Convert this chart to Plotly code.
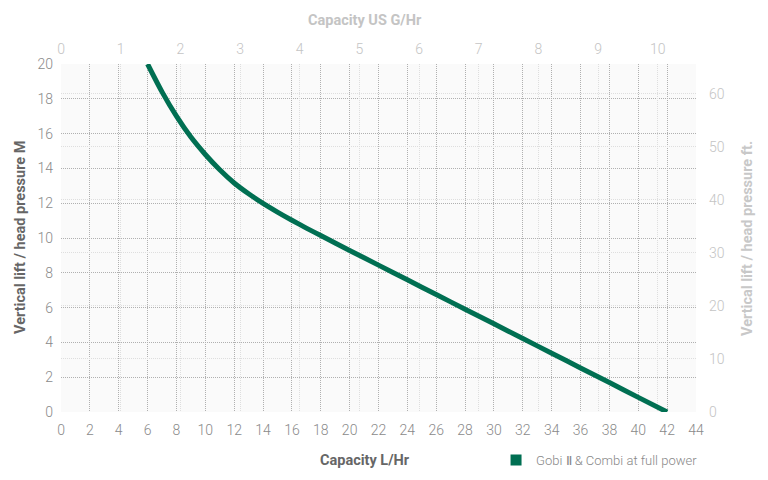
import plotly.graph_objects as go

# Pump curve: capacity (L/Hr) vs head (M)
capacity_lhr = [6, 7, 8, 9, 10, 11, 12, 13, 14, 15, 16, 17, 18, 20, 22, 24, 26, 28, 30, 32, 34, 36, 38, 40, 42]
head_m = [20, 18.4, 17.0, 15.8, 14.8, 13.92, 13.16, 12.54, 11.99, 11.49, 11.02, 10.57, 10.14,
          9.28, 8.44, 7.6, 6.75, 5.91, 5.07, 4.22, 3.38, 2.53, 1.69, 0.84, 0]
series_name = "Gobi Ⅱ & Combi at full power"

L_PER_GAL = 4.135  # spacing of top scale as drawn on the chart
M_PER_FT = 0.3048

green = "#006f52"
font = "Roboto"
major_grid = "#b0b0b0"
minor_grid = "#dedede"

# page body has an 8px margin, so the figure is drawn 8px right/down
L, R, T, B = 53, 80, 56, 76
PW, PH = 768 - L - R, 480 - T - B

fig = go.Figure()
fig.add_trace(go.Scatter(x=capacity_lhr, y=head_m, mode="lines",
                         line=dict(color=green, width=5, shape="spline", smoothing=0.8),
                         showlegend=False, hoverinfo="skip"))
# legend swatch
fig.add_trace(go.Scatter(x=[None], y=[None], mode="markers", name=series_name,
                         marker=dict(symbol="square", size=11, color=green)))
# empty trace to hold the secondary (gallon / feet) axes
fig.add_trace(go.Scatter(x=[None], y=[None], xaxis="x2", yaxis="y2", showlegend=False))

common = dict(zeroline=False, showline=False, ticks="", automargin=False, showgrid=True,
              gridwidth=1, griddash="1px,1px")
dark_ticks = dict(size=14, color="#8a8a8a", weight=300)
light_ticks = dict(size=14, color="#c4c4c4", weight=300)

fig.update_layout(
    width=768, height=480,
    margin=dict(l=L, r=R, t=T, b=B, autoexpand=False),
    paper_bgcolor="white", plot_bgcolor="#fafafa",
    font=dict(family=font, color="#888"),
    xaxis=dict(range=[0, 44], dtick=2, gridcolor=major_grid, ticklabelstandoff=8,
               tickfont=dark_ticks, **common),
    yaxis=dict(range=[0, 20], dtick=2, gridcolor=major_grid, ticklabelstandoff=7,
               tickfont=dark_ticks, **common),
    xaxis2=dict(range=[0, 44 / L_PER_GAL], dtick=1, overlaying="x", side="top", anchor="y2",
                gridcolor=minor_grid, ticklabelstandoff=6, tickfont=light_ticks, **common),
    yaxis2=dict(range=[0, 20 / M_PER_FT], dtick=10, overlaying="y", side="right", anchor="x2",
                gridcolor=minor_grid, ticklabelstandoff=12, tickfont=light_ticks, **common),
    legend=dict(orientation="h", xref="container", yref="container",
                x=0.905, xanchor="right", y=0.058, yanchor="middle",
                font=dict(size=13, color="#888", weight=300), bgcolor="rgba(0,0,0,0)",
                itemwidth=30),
)

# axis titles, positioned by their centre in screen pixels
titles = [
    ("<b>Capacity L/Hr</b>", 365, 460, 0, "#666"),
    ("<b>Capacity US G/Hr</b>", 365, 20, 0, "#c4c4c4"),
    ("<b>Vertical lift / head pressure M</b>", 20, 238, -90, "#666"),
    ("<b>Vertical lift / head pressure ft.</b>", 747, 238, -90, "#c8c8c8"),
]
for text, px, py, angle, color in titles:
    fig.add_annotation(text=text, x=(px - 8 - L) / PW, y=(480 - B - (py - 8)) / PH,
                       xref="paper", yref="paper", showarrow=False,
                       textangle=angle, xanchor="center", yanchor="middle",
                       font=dict(size=14.5, color=color, family=font))

fig.write_html("out.html")
